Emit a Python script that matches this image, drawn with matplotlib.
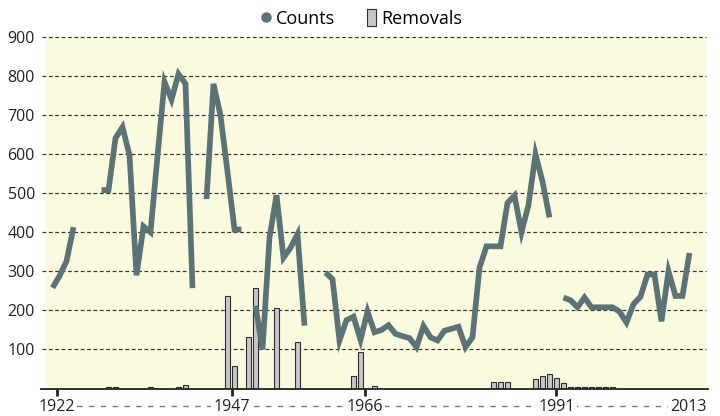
import numpy as np
import matplotlib
matplotlib.use("Agg")
import matplotlib.pyplot as plt
from matplotlib.lines import Line2D
from matplotlib.patches import Patch
import matplotlib.transforms as mtransforms


plt.rcParams.update({
    "font.family": ["Liberation Sans Narrow", "Open Sans", "DejaVu Sans"],
    "font.size": 12,
    "xtick.labelsize": 11.5,
    "ytick.labelsize": 11.5,
    "legend.fontsize": 13,
})

nan = np.nan

years = np.arange(1922, 2014)

counts = [
    258, 288, 326, 413, nan, nan, nan, 508, 508, 641,
    669, 597, 290, 415, 400, 595, 785, 740, 805, 780,
    257, nan, 485, 780, 699, 555, 407, 407, nan, 212,
    100, 386, 495, 335, 360, 395, 161, nan, nan, 297,
    280, 123, 175, 184, 125, 197, 144, 150, 162, 140,
    134, 129, 106, 160, 131, 123, 148, 153, 158, 106,
    131, 309, 364, 364, 364, 475, 494, 400, 470, 600,
    530, 438, nan, 233, 226, 208, 233, 208, 208, 208,
    208, 197, 169, 216, 235, 292, 292, 172, 300, 237,
    237, 347,
]

removals = [
    0, 0, 0, 0, 0, 0, 0, 0, 4, 4,
    0, 0, 0, 0, 3, 0, 0, 0, 4, 8,
    0, 0, 0, 0, 0, 236, 58, 0, 133, 257,
    0, 0, 206, 0, 0, 120, 0, 0, 0, 0,
    0, 0, 0, 33, 94, 0, 7, 0, 0, 0,
    0, 0, 0, 0, 0, 0, 0, 0, 0, 0,
    0, 0, 0, 17, 17, 17, 0, 0, 0, 24,
    32, 38, 28, 13, 5, 5, 5, 5, 5, 5,
    5, 0, 0, 0, 0, 0, 0, 0, 0, 0,
    0, 0,
]

# tick positions / labels as they sit in the source chart
tick_pos = [1922.6, 1947.6, 1966.6, 1994.0, 2012.8]
tick_labels = ["1922", "1947", "1966", "1991", "2013"]
y_ticks = [100, 200, 300, 400, 500, 600, 700, 800, 900]

line_color = "#5b7377"
bar_fill = "#c9c6cb"
bar_edge = "#2e2e2e"
bg_color = "#fafadf"

counts = np.array(counts, dtype=float)
removals = np.array(removals, dtype=float)

fig = plt.figure(figsize=(7.2, 4.16), dpi=100)
ax = fig.add_axes([46 / 720, 27.5 / 416, 660 / 720, 351.5 / 416])
ax.set_facecolor(bg_color)

# dashed horizontal grid, running a little past the left edge
for yv in y_ticks:
    ax.axhline(yv, xmin=-0.0065, xmax=1, color="#333333", lw=0.85,
               ls=(0, (3.2, 2.2)), clip_on=False, zorder=1)

has_bar = removals > 0
ax.bar(years[has_bar], removals[has_bar], width=0.8, color=bar_fill,
       edgecolor=bar_edge, linewidth=0.8, zorder=2)

ax.plot(years, counts, color=line_color, lw=4.1,
        solid_joinstyle="miter", solid_capstyle="butt", zorder=3)

ax.set_xlim(1921.07, 2015.36)
ax.set_ylim(0, 900)

for s in ["top", "right", "left", "bottom"]:
    ax.spines[s].set_visible(False)
ax.axhline(0, xmin=-0.008, xmax=1.003, color="#222222", lw=1.3,
           clip_on=False, zorder=4)

ax.set_yticks(y_ticks)
ax.tick_params(axis="y", length=0, pad=8, colors="#222222")
ax.set_xticks(tick_pos)
ax.set_xticklabels(tick_labels)
ax.tick_params(axis="x", length=5, width=2, pad=2.5, colors="#222222")
ax.xaxis.get_major_ticks()[-1].tick1line.set_visible(False)
for lab in ax.get_xticklabels():
    lab.set_bbox(dict(facecolor="white", edgecolor="none", pad=1.5))

# dashed rule running between the year labels
trans = mtransforms.blended_transform_factory(ax.transData, ax.transAxes)
ax.add_line(Line2D([1922, 2013], [-0.05, -0.05], transform=trans,
                   color="#7a7a7a", lw=1.0, ls=(0, (4, 4.5)),
                   clip_on=False, zorder=0.5))

handles = [
    Line2D([], [], marker="o", ls="none", color=line_color, markersize=6.5),
    Patch(facecolor=bar_fill, edgecolor=bar_edge, linewidth=0.8),
]
fig.legend(handles, ["Counts", "Removals"], loc="center",
           bbox_to_anchor=(0.503, 0.955), ncol=2, frameon=False,
           handlelength=0.5, handleheight=1.05, handletextpad=0.3,
           columnspacing=1.75)

plt.savefig("out.png", dpi=100)
plt.close(fig)
